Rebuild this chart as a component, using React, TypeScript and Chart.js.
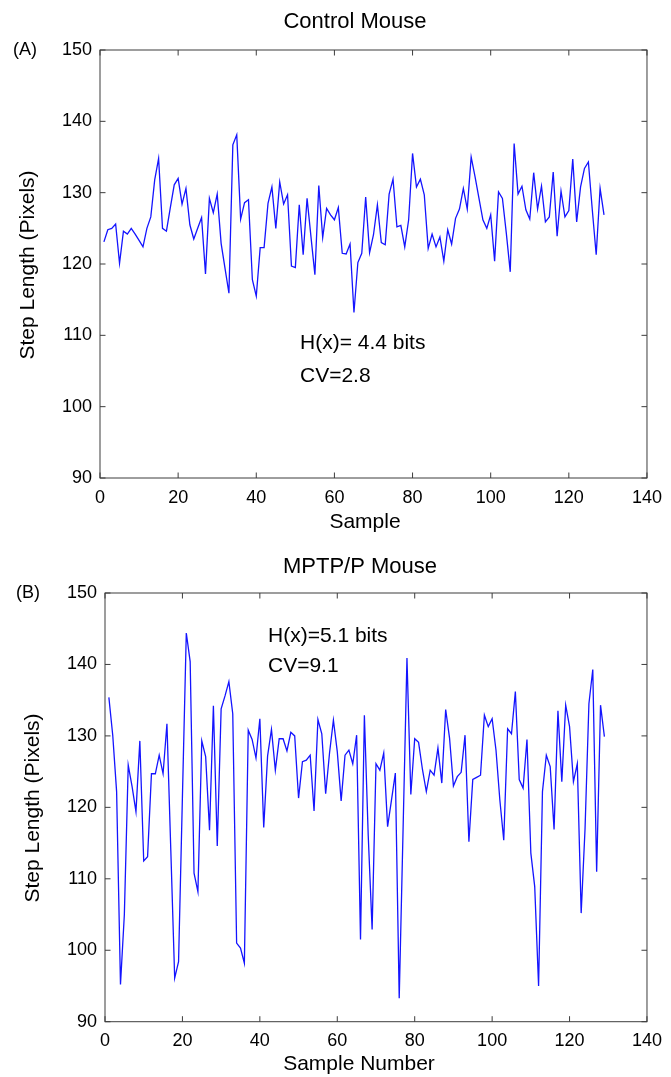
import React, { useEffect, useRef } from "react";
import { Chart, registerables } from "chart.js";

Chart.register(...registerables);

const FONT = '"Liberation Sans", Arial, Helvetica, sans-serif';

// Control mouse step lengths (samples 1..129)
const controlValues: number[] = [
  123.1, 124.8, 125.0, 125.6, 120.1, 124.6, 124.2, 125.0, 124.2, 123.3,
  122.4, 125.0, 126.6, 131.8, 134.8, 125.0, 124.6, 127.9, 131.1, 132.0,
  128.4, 130.6, 125.5, 123.5, 125.0, 126.5, 118.6, 129.2, 127.2, 129.8,
  122.9, 119.4, 115.9, 136.7, 138.1, 126.3, 128.6, 129.0, 117.8, 115.5,
  122.3, 122.3, 128.5, 130.8, 125.0, 131.5, 128.4, 129.7, 119.7, 119.5,
  128.3, 121.3, 129.2, 123.8, 118.5, 131.0, 123.7, 127.8, 126.9, 126.2,
  127.9, 121.5, 121.4, 122.8, 113.2, 120.2, 121.5, 129.4, 121.6, 124.1,
  128.3, 123.0, 122.7, 129.8, 131.9, 125.2, 125.4, 122.4, 126.2, 135.5,
  130.8, 131.9, 129.7, 122.2, 124.2, 122.4, 123.8, 120.4, 124.8, 122.8,
  126.4, 127.7, 130.6, 127.7, 135.0, 132.2, 129.2, 126.2, 125.0, 126.9,
  120.4, 130.1, 129.2, 124.3, 118.9, 136.9, 129.8, 130.9, 127.6, 126.3,
  132.8, 127.7, 130.9, 125.9, 126.6, 132.9, 123.9, 130.2, 126.6, 127.5,
  134.7, 125.9, 130.8, 133.4, 134.3, 127.6, 121.3, 130.6, 126.9,
];

// MPTP/P mouse step lengths (samples 1..129)
const mptpValues: number[] = [
  135.4, 130.1, 122.2, 95.2, 105.0, 125.9, 122.9, 119.4, 129.3, 112.5,
  113.1, 124.7, 124.7, 127.3, 124.7, 131.7, 114.0, 96.1, 98.4, 121.5,
  144.4, 140.4, 110.8, 108.2, 129.3, 127.1, 116.8, 134.2, 114.6, 133.8,
  135.6, 137.6, 133.1, 101.0, 100.3, 98.2, 130.8, 129.5, 126.9, 132.4,
  117.2, 127.2, 130.9, 125.2, 129.6, 129.6, 127.9, 130.5, 130.0, 121.3,
  126.4, 126.6, 127.3, 119.5, 132.3, 130.3, 121.9, 127.6, 132.2, 127.8,
  120.9, 127.3, 128.0, 126.1, 130.1, 101.5, 132.9, 116.0, 102.9, 126.1,
  125.2, 127.6, 117.3, 121.0, 124.8, 93.3, 117.0, 140.9, 121.8, 129.6,
  129.1, 125.3, 122.2, 125.2, 124.5, 128.3, 123.4, 133.7, 129.7, 123.0,
  124.3, 124.9, 130.1, 115.2, 123.9, 124.2, 124.5, 132.9, 131.3, 132.4,
  128.0, 121.0, 115.4, 131.0, 130.3, 136.2, 123.9, 122.7, 129.5, 113.6,
  108.9, 95.0, 122.2, 127.3, 125.7, 116.9, 133.5, 123.6, 134.3, 131.3,
  123.6, 126.1, 105.2, 117.0, 134.5, 139.3, 111.0, 134.3, 129.9,
];

const xTickMin = 0;
const xTickMax = 140;
const xTickStep = 20;
const yTickMin = 90;
const yTickMax = 150;
const yTickStep = 10;

const toPoints = (vals: number[]) => vals.map((v, i) => ({ x: i + 1, y: v }));

const framePlugin = {
  id: "frame",
  afterDatasetsDraw(chart: any) {
    const { ctx, chartArea: a, scales } = chart;
    ctx.save();
    ctx.strokeStyle = "#3c3c3c";
    ctx.lineWidth = 1;
    ctx.strokeRect(a.left, a.top, a.right - a.left, a.bottom - a.top);
    const tl = 5.5;
    ctx.beginPath();
    for (const t of scales.x.ticks) {
      const px = scales.x.getPixelForValue(t.value);
      ctx.moveTo(px, a.bottom);
      ctx.lineTo(px, a.bottom - tl);
      ctx.moveTo(px, a.top);
      ctx.lineTo(px, a.top + tl);
    }
    for (const t of scales.y.ticks) {
      const py = scales.y.getPixelForValue(t.value);
      ctx.moveTo(a.left, py);
      ctx.lineTo(a.left + tl, py);
      ctx.moveTo(a.right, py);
      ctx.lineTo(a.right - tl, py);
    }
    ctx.stroke();
    ctx.restore();
  },
};

const textPlugin = {
  id: "texts",
  afterDraw(chart: any, _args: any, opts: any) {
    const ctx = chart.ctx;
    for (const t of opts.items || []) {
      ctx.save();
      ctx.font = `${t.size}px ${FONT}`;
      ctx.fillStyle = "#000";
      ctx.textAlign = t.align || "center";
      ctx.textBaseline = "middle";
      ctx.translate(t.x, t.y);
      if (t.rot) ctx.rotate(t.rot);
      ctx.fillText(t.text, 0, 0);
      ctx.restore();
    }
  },
};

function makeConfig(
  values: number[],
  pad: { left: number; right: number; top: number; bottom: number },
  yWidth: number,
  xHeight: number,
  items: any[]
): any {
  return {
    type: "line",
    data: {
      datasets: [
        {
          data: toPoints(values),
          borderColor: "rgb(20,20,255)",
          borderWidth: 1.3,
          pointRadius: 0,
          tension: 0,
          fill: false,
        },
      ],
    },
    options: {
      animation: false,
      responsive: false,
      layout: { padding: pad },
      plugins: {
        legend: { display: false },
        title: { display: false },
        tooltip: { enabled: false },
        texts: { items },
      },
      scales: {
        x: {
          type: "linear",
          min: xTickMin,
          max: xTickMax,
          ticks: {
            stepSize: xTickStep,
            color: "#000",
            font: { family: FONT, size: 18 },
            padding: 9,
            maxRotation: 0,
            autoSkip: false,
          },
          grid: { display: false, drawTicks: false },
          border: { display: false },
          afterFit: (s: any) => {
            s.height = xHeight;
          },
        },
        y: {
          type: "linear",
          min: yTickMin,
          max: yTickMax,
          ticks: {
            stepSize: yTickStep,
            color: "#000",
            font: { family: FONT, size: 18 },
            padding: 8,
          },
          grid: { display: false, drawTicks: false },
          border: { display: false },
          afterFit: (s: any) => {
            s.width = yWidth;
          },
        },
      },
    },
    plugins: [framePlugin, textPlugin],
  };
}

export default function App() {
  const r1 = useRef<HTMLCanvasElement>(null);
  const r2 = useRef<HTMLCanvasElement>(null);

  useEffect(() => {
    const c1 = new Chart(
      r1.current as HTMLCanvasElement,
      makeConfig(controlValues, { left: 0, right: 22, top: 50, bottom: 0 }, 100, 62, [
        { text: "Control Mouse", x: 355, y: 22, size: 22 },
        { text: "(A)", x: 25, y: 50, size: 18 },
        { text: "Sample", x: 365, y: 522, size: 21 },
        { text: "Step Length (Pixels)", x: 28, y: 265, size: 21, rot: -Math.PI / 2 },
        { text: "H(x)= 4.4 bits", x: 300, y: 343, size: 21, align: "left" },
        { text: "CV=2.8", x: 300, y: 376, size: 21, align: "left" },
      ])
    );
    const c2 = new Chart(
      r2.current as HTMLCanvasElement,
      makeConfig(mptpValues, { left: 0, right: 16, top: 53, bottom: 0 }, 105, 55.3, [
        { text: "MPTP/P Mouse", x: 360, y: 27, size: 22 },
        { text: "(B)", x: 28, y: 53, size: 18 },
        { text: "Sample Number", x: 359, y: 524, size: 21 },
        { text: "Step Length (Pixels)", x: 33, y: 268, size: 21, rot: -Math.PI / 2 },
        { text: "H(x)=5.1 bits", x: 268, y: 96, size: 21, align: "left" },
        { text: "CV=9.1", x: 268, y: 126, size: 21, align: "left" },
      ])
    );
    return () => {
      c1.destroy();
      c2.destroy();
    };
  }, []);

  return (
    <div
      style={{
        position: "absolute",
        left: 0,
        top: 0,
        width: 671,
        height: 1077,
        background: "#fff",
        overflow: "hidden",
      }}
    >
      <canvas ref={r1} width={671} height={540} style={{ position: "absolute", left: 0, top: 0 }} />
      <canvas ref={r2} width={671} height={537} style={{ position: "absolute", left: 0, top: 540 }} />
    </div>
  );
}
